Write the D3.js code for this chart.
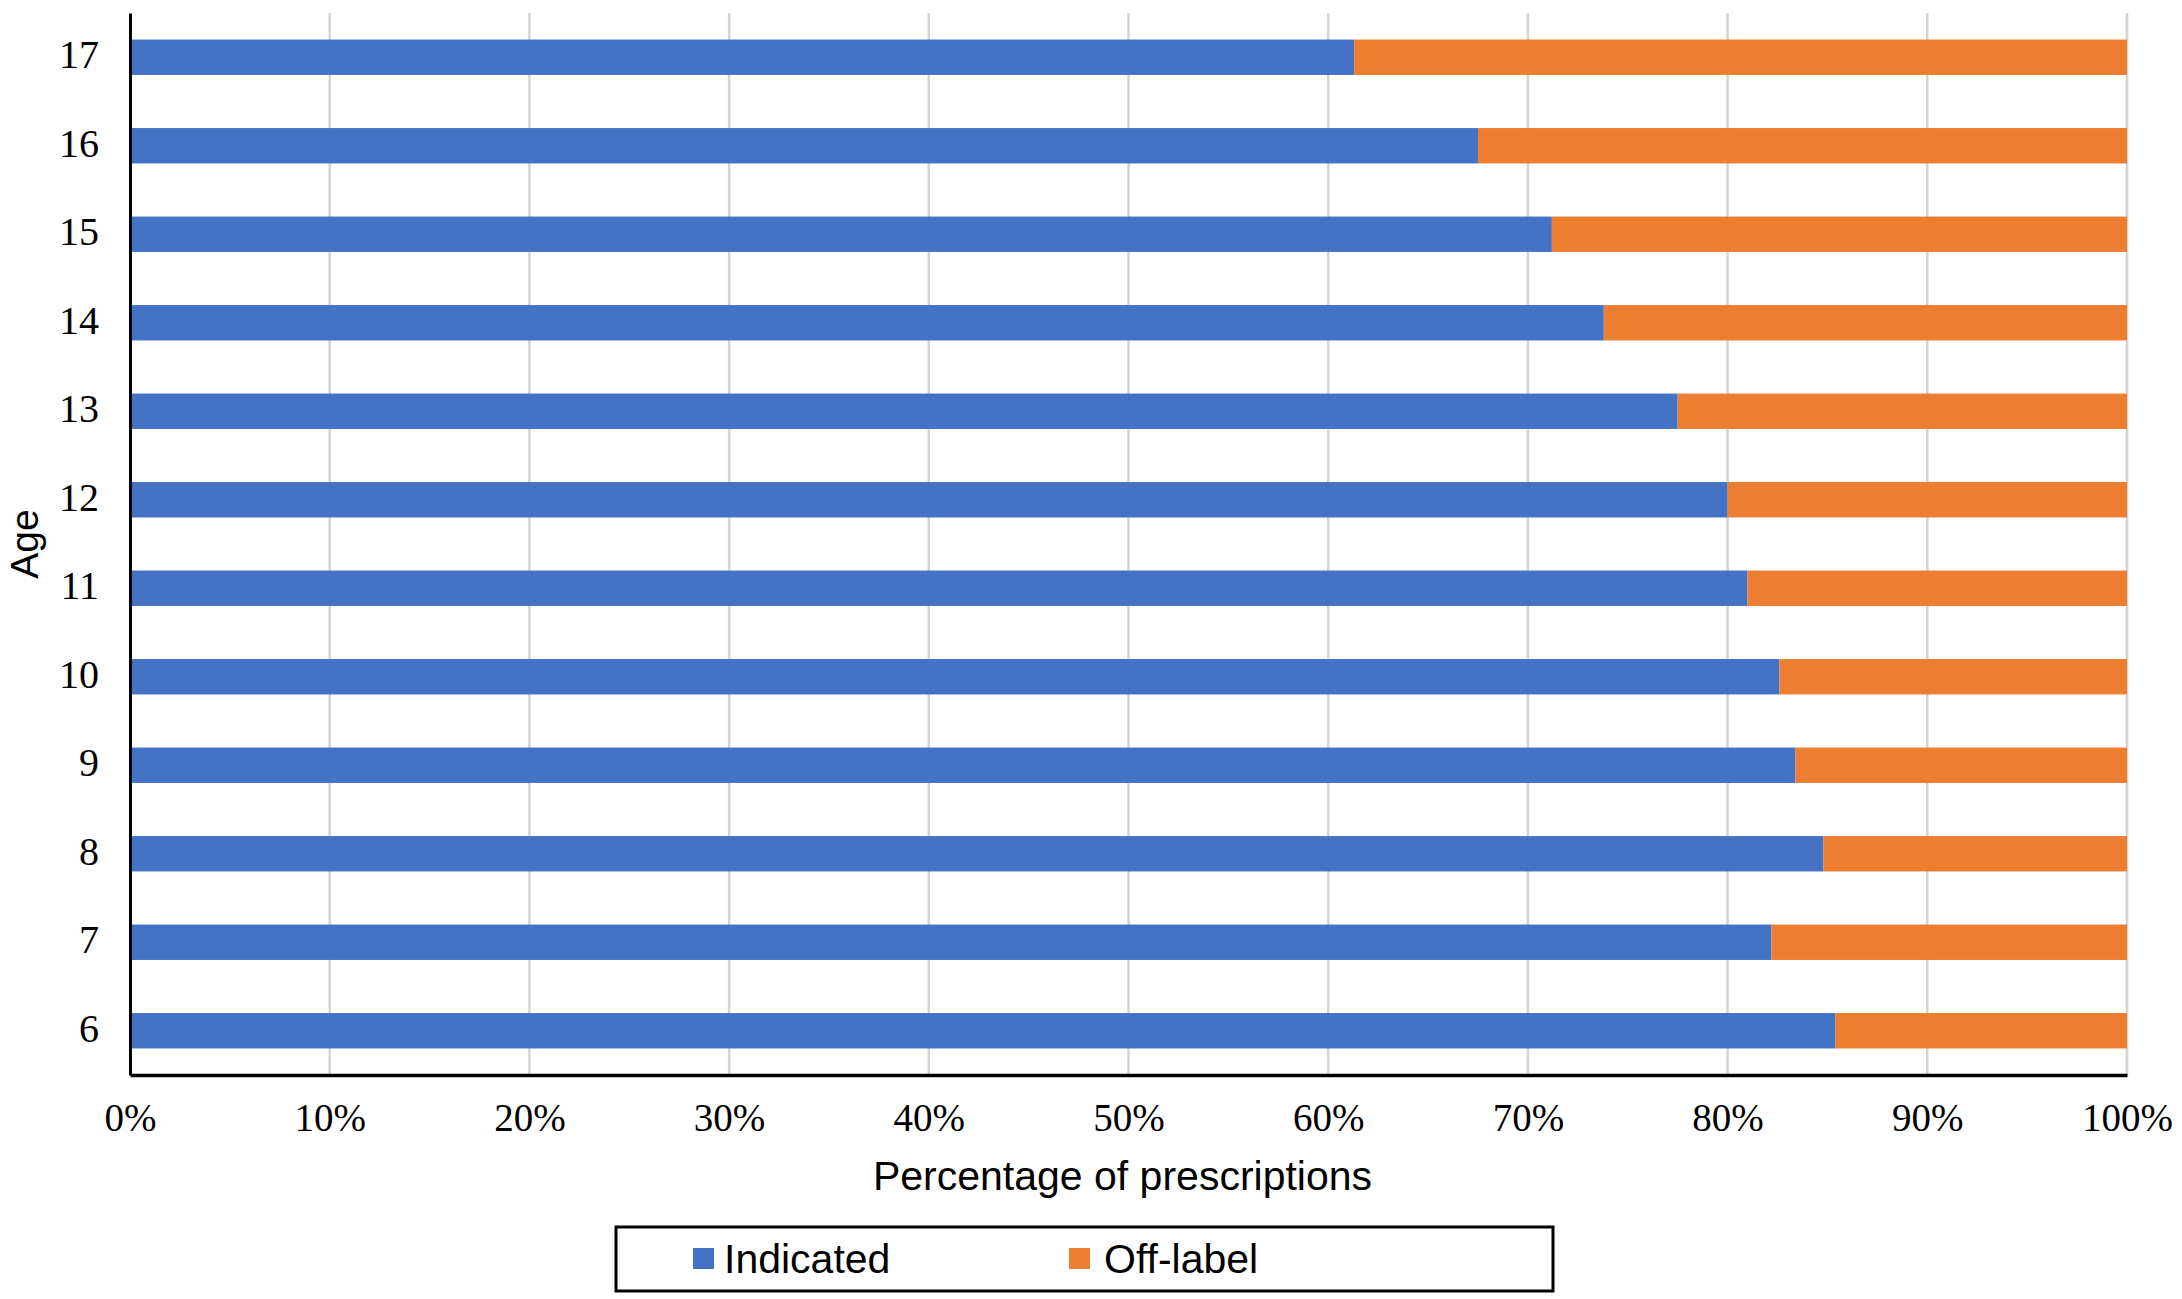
<!DOCTYPE html>
<html>
<head>
<meta charset="utf-8">
<script src="https://cdn.jsdelivr.net/npm/d3@7"></script>
<style>
body { margin: 0; background: #fff; }
</style>
</head>
<body>
<script>
var ages = ["6", "7", "8", "9", "10", "11", "12", "13", "14", "15", "16", "17"]
var indicated = [85.4, 82.2, 84.8, 83.4, 82.6, 81.0, 80.0, 77.5, 73.8, 71.2, 67.5, 61.3]
var offlabel = [14.6, 17.8, 15.2, 16.6, 17.4, 19.0, 20.0, 22.5, 26.2, 28.8, 32.5, 38.7]
var seriesNames = ["Indicated", "Off-label"]
var colors = ["#4472C4", "#ED7D31"]
var xTicks = [0, 10, 20, 30, 40, 50, 60, 70, 80, 90, 100]

var screen = {width: 2182, height: 1299}
var plot = {left: 130, right: 2127, top: 13, bottom: 1075}

var svg = d3.select("body")
            .append("svg")
            .attr("width", screen.width)
            .attr("height", screen.height)

var x = d3.scaleLinear()
          .domain([0, 100])
          .range([plot.left, plot.right])

// age 17 at top
var y = d3.scaleBand()
          .domain(ages.slice().reverse())
          .range([plot.top, plot.bottom])
          .paddingInner(0.6)
          .paddingOuter(0.3)

var rows = ages.map(function(a, i) {
  return {age: a, "Indicated": indicated[i], "Off-label": offlabel[i]}
})
var stacked = d3.stack().keys(seriesNames)(rows)

// gridlines
svg.append("g")
   .selectAll("line")
   .data(xTicks.slice(1))
   .enter()
   .append("line")
   .attr("x1", function(d) {return x(d)})
   .attr("x2", function(d) {return x(d)})
   .attr("y1", plot.top)
   .attr("y2", plot.bottom)
   .attr("stroke", "#d4d4d4")
   .attr("stroke-width", 2.5)

// bars
svg.append("g")
   .selectAll("g")
   .data(stacked)
   .enter()
   .append("g")
   .attr("fill", function(d, i) {return colors[i]})
   .selectAll("rect")
   .data(function(d) {return d})
   .enter()
   .append("rect")
   .attr("x", function(d) {return x(d[0])})
   .attr("width", function(d) {return x(d[1]) - x(d[0])})
   .attr("y", function(d) {return y(d.data.age)})
   .attr("height", y.bandwidth())

// axes
var xAxis = svg.append("g")
   .attr("transform", "translate(0," + plot.bottom + ")")
   .call(d3.axisBottom(x).tickValues(xTicks).tickSize(0).tickPadding(0)
           .tickFormat(function(d) {return d + "%"}))
xAxis.select(".domain").attr("stroke", "#000").attr("stroke-width", 3.5)
xAxis.selectAll("text")
     .attr("y", 56)
     .attr("dy", 0)
     .attr("font-family", "Liberation Serif")
     .attr("font-size", 39)
     .attr("fill", "#000")

var yAxis = svg.append("g")
   .attr("transform", "translate(" + plot.left + ",0)")
   .call(d3.axisLeft(y).tickSize(0).tickPadding(31))
yAxis.select(".domain").attr("stroke", "#000").attr("stroke-width", 3)
yAxis.selectAll("text")
     .attr("dy", "0.27em")
     .attr("font-family", "Liberation Serif")
     .attr("font-size", 40)
     .attr("fill", "#000")

// axis titles
svg.append("text")
   .attr("x", (plot.left + plot.right) / 2 - 6)
   .attr("y", 1190)
   .attr("text-anchor", "middle")
   .attr("font-family", "Liberation Sans")
   .attr("font-size", 41)
   .text("Percentage of prescriptions")

svg.append("text")
   .attr("transform", "translate(38," + (plot.top + plot.bottom) / 2 + ") rotate(-90)")
   .attr("text-anchor", "middle")
   .attr("font-family", "Liberation Sans")
   .attr("font-size", 39)
   .text("Age")

// legend
var legend = svg.append("g").attr("class", "legend")
legend.append("rect")
      .attr("x", 616)
      .attr("y", 1227)
      .attr("width", 937)
      .attr("height", 64)
      .attr("fill", "#fff")
      .attr("stroke", "#000")
      .attr("stroke-width", 3)

var legendX = [693, 1069]
legend.selectAll(".key")
      .data(seriesNames)
      .enter()
      .append("rect")
      .attr("class", "key")
      .attr("x", function(d, i) {return legendX[i]})
      .attr("y", 1248)
      .attr("width", 21)
      .attr("height", 21)
      .attr("fill", function(d, i) {return colors[i]})

legend.selectAll("text")
      .data(seriesNames)
      .enter()
      .append("text")
      .attr("x", function(d, i) {return legendX[i] + 31 + i * 4})
      .attr("y", 1273)
      .attr("font-family", "Liberation Sans")
      .attr("font-size", 41)
      .text(function(d) {return d})
</script>
</body>
</html>
